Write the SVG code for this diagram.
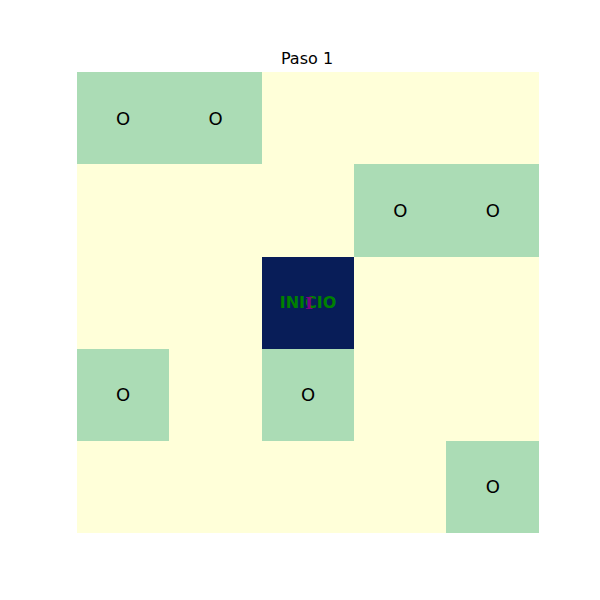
<svg xmlns="http://www.w3.org/2000/svg" width="600" height="600" viewBox="0 0 600 600">
<style>
rect{shape-rendering:crispEdges}
.y{fill:#ffffd9}
.g{fill:#abdcb5}
.n{fill:#081d58}
.o{font-family:"DejaVu Sans",sans-serif;font-size:18px;fill:#000;text-anchor:middle;dominant-baseline:central}
.s{font-family:"DejaVu Sans",sans-serif;font-size:16px;font-weight:bold;fill:#008000;text-anchor:middle;dominant-baseline:central}
.p{font-family:"DejaVu Serif",serif;font-size:17px;font-weight:bold;fill:#800080;text-anchor:middle;dominant-baseline:central}
.t{font-family:"DejaVu Sans",sans-serif;font-size:16px;fill:#000;text-anchor:middle}
</style>
<rect width="600" height="600" fill="#fff"/>
<text class="t" x="307" y="64">Paso 1</text>
<g id="grid">
<rect class="y" x="77" y="72" width="462" height="461"/>
</g>
<g id="c00"><rect class="g" x="77" y="72" width="93" height="92"/><text class="o" x="123" y="118">O</text></g>
<g id="c01"><rect class="g" x="169" y="72" width="93" height="92"/><text class="o" x="215.6" y="118">O</text></g>
<g id="c13"><rect class="g" x="354" y="164" width="93" height="93"/><text class="o" x="400.4" y="210.3">O</text></g>
<g id="c14"><rect class="g" x="446" y="164" width="93" height="93"/><text class="o" x="492.8" y="210.3">O</text></g>
<g id="start"><rect class="n" x="262" y="257" width="92" height="92"/><text class="s" x="308" y="302.5">INICIO</text><text class="p" x="309" y="302.5">I</text></g>
<g id="c30"><rect class="g" x="77" y="349" width="92" height="92"/><text class="o" x="123" y="394.7">O</text></g>
<g id="c32"><rect class="g" x="262" y="349" width="92" height="92"/><text class="o" x="308" y="394.7">O</text></g>
<g id="c44"><rect class="g" x="446" y="441" width="93" height="92"/><text class="o" x="492.8" y="486.9">O</text></g>
<g id="connectors"></g>
</svg>
